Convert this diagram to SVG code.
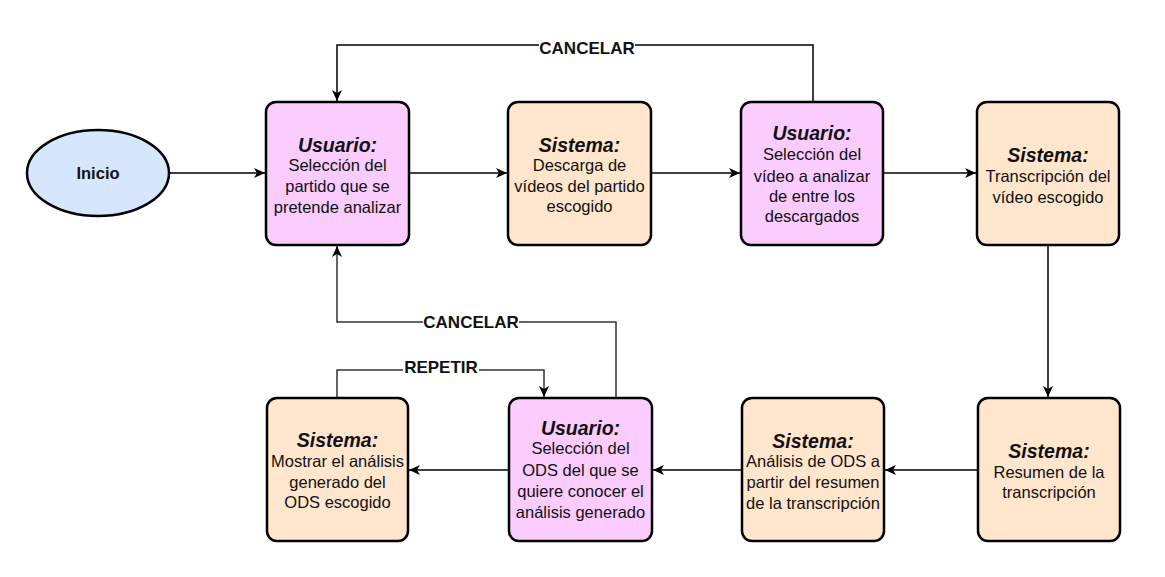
<svg xmlns="http://www.w3.org/2000/svg" width="1165" height="577" viewBox="0 0 1165 577">
<style>
.box{stroke:#000;stroke-width:2.5}
.u{fill:#FACCFF}
.s{fill:#FFE6CC}
.t{font-family:"Liberation Sans",Arial,sans-serif;font-size:16.5px;fill:#111;text-anchor:middle}
.h{font-size:19.5px;font-weight:bold;font-style:italic}
.e{fill:none;stroke:#000;stroke-width:1.5}
.g{stroke:#333}
.lbl{font-family:"Liberation Sans",Arial,sans-serif;font-size:17px;font-weight:bold;fill:#111;text-anchor:middle}
.bg{fill:#fff}
</style>
<defs>
<marker id="ar" viewBox="0 0 12 12" refX="11" refY="6" markerWidth="12" markerHeight="12" markerUnits="userSpaceOnUse" orient="auto">
<path d="M0,1 L11,6 L0,11 L3,6 Z" fill="#000"/>
</marker>
</defs>
<rect width="1165" height="577" fill="#fff"/>
<g id="connectors">
<path class="e" d="M170,173 H265" marker-end="url(#ar)"/>
<path class="e" d="M409,173 H507" marker-end="url(#ar)"/>
<path class="e" d="M651,173 H740" marker-end="url(#ar)"/>
<path class="e" d="M883,173 H976" marker-end="url(#ar)"/>
<path class="e" d="M1048,245 V397" marker-end="url(#ar)"/>
<path class="e" d="M977,470 H885" marker-end="url(#ar)"/>
<path class="e" d="M742,470 H653" marker-end="url(#ar)"/>
<path class="e" d="M509,470 H409" marker-end="url(#ar)"/>
<path class="e" d="M813,102 V45 H337 V101" marker-end="url(#ar)"/>
<path class="e g" d="M616,398 V322 H337 V246" marker-end="url(#ar)"/>
<path class="e g" d="M337,398 V370 H544 V397" marker-end="url(#ar)"/>
<rect class="bg" x="539" y="38" width="96" height="16"/>
<text class="lbl" x="587" y="54">CANCELAR</text>
<rect class="bg" x="423" y="315" width="96" height="16"/>
<text class="lbl" x="471" y="328">CANCELAR</text>
<rect class="bg" x="403" y="362" width="76" height="16"/>
<text class="lbl" x="441" y="373">REPETIR</text>
</g>
<g id="inicio">
<ellipse cx="98" cy="173" rx="71" ry="43" fill="#D6E6FC" class="box"/>
<text class="t" x="98" y="179" font-weight="bold">Inicio</text>
</g>
<g id="n1">
<rect class="box u" x="266" y="102" width="143" height="143" rx="10"/>
<text class="t" x="337.5" y="152"><tspan class="h">Usuario:</tspan><tspan x="337.5" y="171">Selección del</tspan><tspan x="337.5" y="192">partido que se</tspan><tspan x="337.5" y="213">pretende analizar</tspan></text>
</g>
<g id="n2">
<rect class="box s" x="508" y="102" width="143" height="143" rx="10"/>
<text class="t" x="579.5" y="152"><tspan class="h">Sistema:</tspan><tspan x="579.5" y="171">Descarga de</tspan><tspan x="579.5" y="192">vídeos del partido</tspan><tspan x="579.5" y="212">escogido</tspan></text>
</g>
<g id="n3">
<rect class="box u" x="741" y="102" width="142" height="143" rx="10"/>
<text class="t" x="812" y="140"><tspan class="h">Usuario:</tspan><tspan x="812" y="160">Selección del</tspan><tspan x="812" y="182">vídeo a analizar</tspan><tspan x="812" y="202">de entre los</tspan><tspan x="812" y="222">descargados</tspan></text>
</g>
<g id="n4">
<rect class="box s" x="977" y="102" width="142" height="143" rx="10"/>
<text class="t" x="1048" y="162"><tspan class="h">Sistema:</tspan><tspan x="1048" y="182">Transcripción del</tspan><tspan x="1048" y="203">vídeo escogido</tspan></text>
</g>
<g id="n5">
<rect class="box s" x="978" y="398" width="142" height="143" rx="10"/>
<text class="t" x="1049" y="458"><tspan class="h">Sistema:</tspan><tspan x="1049" y="478">Resumen de la</tspan><tspan x="1049" y="498">transcripción</tspan></text>
</g>
<g id="n6">
<rect class="box s" x="742" y="398" width="142" height="143" rx="10"/>
<text class="t" x="813" y="448"><tspan class="h">Sistema:</tspan><tspan x="813" y="467">Análisis de ODS a</tspan><tspan x="813" y="488">partir del resumen</tspan><tspan x="813" y="509">de la transcripción</tspan></text>
</g>
<g id="n7">
<rect class="box u" x="509" y="398" width="143" height="143" rx="10"/>
<text class="t" x="580.5" y="435"><tspan class="h">Usuario:</tspan><tspan x="580.5" y="454">Selección del</tspan><tspan x="580.5" y="476">ODS del que se</tspan><tspan x="580.5" y="497">quiere conocer el</tspan><tspan x="580.5" y="518">análisis generado</tspan></text>
</g>
<g id="n8">
<rect class="box s" x="267" y="398" width="141" height="143" rx="10"/>
<text class="t" x="337.5" y="447"><tspan class="h">Sistema:</tspan><tspan x="337.5" y="467">Mostrar el análisis</tspan><tspan x="337.5" y="488">generado del</tspan><tspan x="337.5" y="508">ODS escogido</tspan></text>
</g>
</svg>
